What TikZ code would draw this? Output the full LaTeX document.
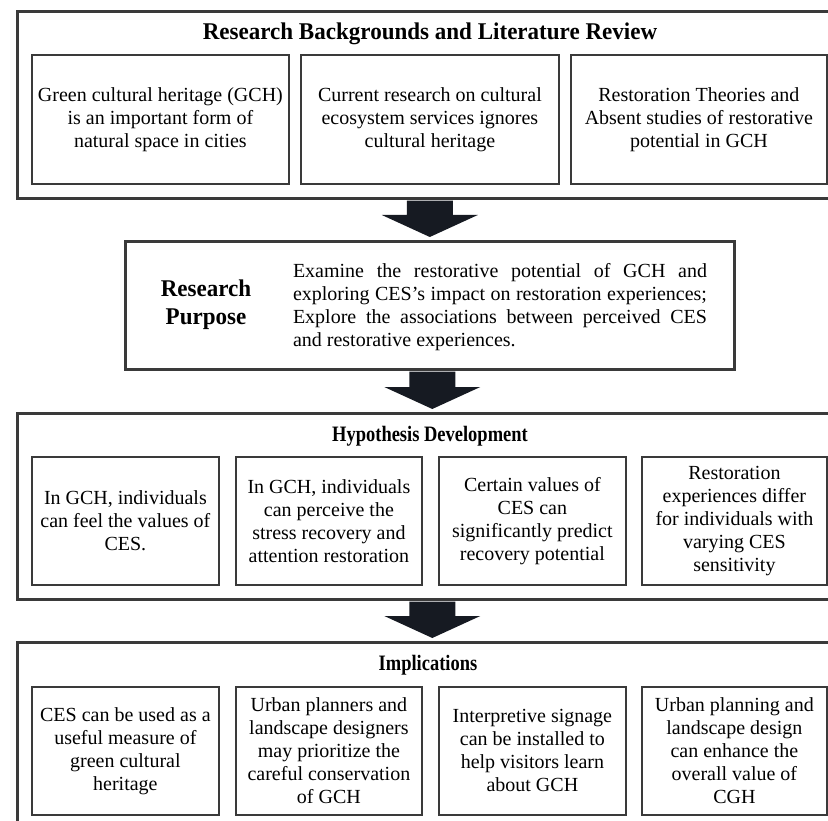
\documentclass[tikz,border=0pt]{standalone}
\usepackage{fontspec}
\setmainfont{Liberation Serif}
\newfontfamily\headserif[FakeStretch=0.96]{Liberation Serif}
\newfontfamily\narrowserif[FakeStretch=0.84]{Liberation Serif}
\usepackage{xcolor}
\usetikzlibrary{calc}

\definecolor{boxline}{HTML}{3A3A3A}
\definecolor{arrowblack}{HTML}{161A22}
\newcommand\bodyfont{\fontsize{20}{23}\selectfont}
\newcommand\headfont{\headserif\fontsize{24}{28}\selectfont\bfseries}
\newcommand\subheadfont{\narrowserif\fontsize{22}{26}\selectfont\bfseries}
\newcommand\blockarrow[2]{%
  \coordinate (tip) at ($(#2.north)+(0,-3)$);
  \coordinate (top) at (#2.north |- #1.south);
  \fill[arrowblack] ($(top)+(-23,1)$) -- ($(top)+(23,1)$) -- ($(tip)+(23,-22)$)
    -- ($(tip)+(48,-22)$) -- (tip) -- ($(tip)+(-48,-22)$) -- ($(tip)+(-23,-22)$) -- cycle;
}

\begin{document}
\begin{tikzpicture}[x=1pt, y=-1pt,
    every node/.style={font=\bodyfont, inner sep=0pt},
    outer/.style={draw=boxline, line width=2.6pt, anchor=north west},
    cell/.style={draw=boxline, line width=1.8pt, anchor=north west, align=center},
    heading/.style={font=\headfont},
    subheading/.style={font=\subheadfont}]
    \useasboundingbox (0,0) rectangle (828,821);
    \clip (0,0) rectangle (828,821);

    \node[outer, minimum width=830, minimum height=187] at (16, 10)  (review) {};
    \node[heading] at (430, 34) (reviewtitle) {Research Backgrounds and Literature Review};
    \node[cell, minimum width=257, minimum height=129] at (31, 54)  (r1) {Green cultural heritage (GCH)\\is an important form of\\natural space in cities};
    \node[cell, minimum width=258, minimum height=129] at (300, 54) (r2) {Current research on cultural\\ecosystem services ignores\\cultural heritage};
    \node[cell, minimum width=256, minimum height=129] at (570, 54) (r3) {Restoration Theories and\\Absent studies of restorative\\potential in GCH};

    \node[outer, minimum width=609, minimum height=128] at (124, 240) (purpose) {};
    \node[heading, align=center] at (206, 305) (purposetitle) {Research\\Purpose};
    \node[align=left] at (500, 307) (purposetext) {%
        \makebox[414pt][s]{Examine the restorative potential of GCH and}\\
        \makebox[414pt][s]{exploring CES's impact on restoration experiences;}\\
        \makebox[414pt][s]{Explore the associations between perceived CES}\\
        and restorative experiences.};

    \node[outer, minimum width=830, minimum height=186] at (16, 412) (hypo) {};
    \node[subheading] at (430, 436) (hypotitle) {Hypothesis Development};
    \node[cell, minimum width=187, minimum height=128] at (31, 456)  (h1) {In GCH, individuals\\can feel the values of\\CES.};
    \node[cell, minimum width=186, minimum height=128] at (235, 456) (h2) {In GCH, individuals\\can perceive the\\stress recovery and\\attention restoration};
    \node[cell, minimum width=187, minimum height=128] at (438, 456) (h3) {Certain values of\\CES can\\significantly predict\\recovery potential};
    \node[cell, minimum width=185, minimum height=128] at (641, 456) (h4) {Restoration\\experiences differ\\for individuals with\\varying CES\\sensitivity};

    \node[outer, minimum width=830, minimum height=200] at (16, 641) (impl) {};
    \node[subheading] at (428, 665) (impltitle) {Implications};
    \node[cell, minimum width=187, minimum height=128] at (31, 686)  (i1) {CES can be used as a\\useful measure of\\green cultural\\heritage};
    \node[cell, minimum width=186, minimum height=128] at (235, 686) (i2) {Urban planners and\\landscape designers\\may prioritize the\\careful conservation\\of GCH};
    \node[cell, minimum width=187, minimum height=128] at (438, 686) (i3) {Interpretive signage\\can be installed to\\help visitors learn\\about GCH};
    \node[cell, minimum width=185, minimum height=128] at (641, 686) (i4) {Urban planning and\\landscape design\\can enhance the\\overall value of\\CGH};

    \blockarrow{review}{purpose}
    \blockarrow{purpose}{hypo}
    \blockarrow{hypo}{impl}
\end{tikzpicture}
\end{document}
